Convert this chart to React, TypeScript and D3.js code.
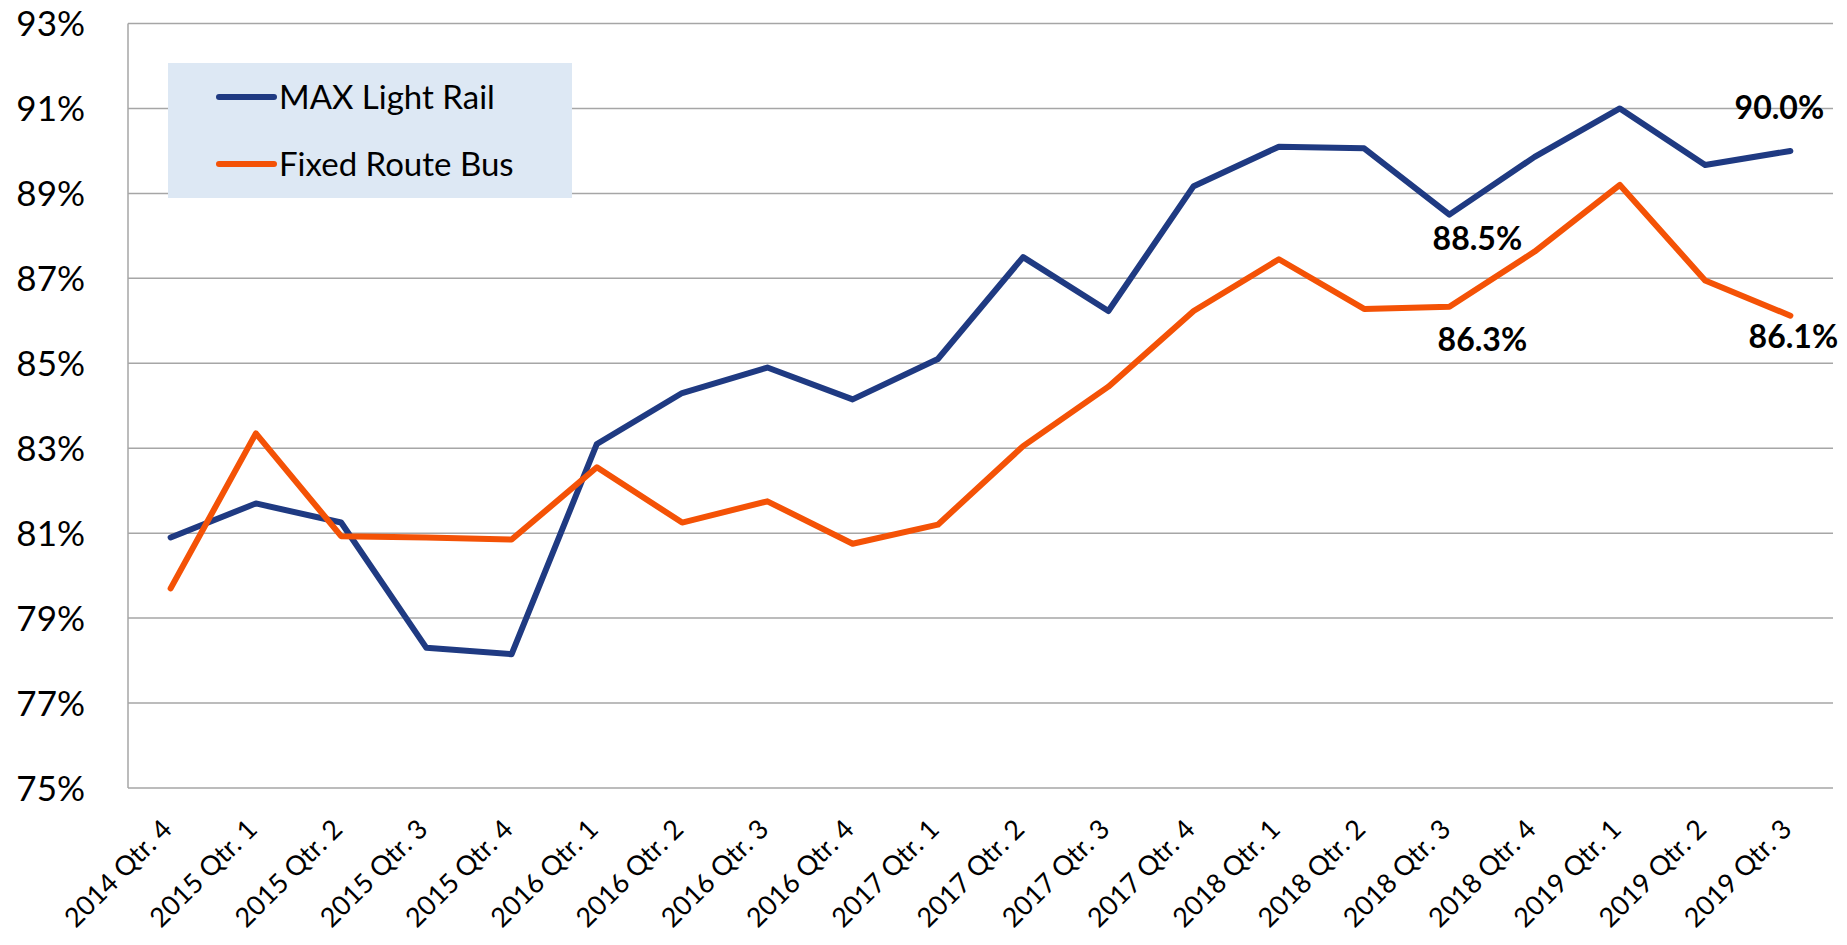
import React, { useEffect, useRef } from "react";
import * as d3 from "d3";

const quarters = [
  "2014 Qtr. 4", "2015 Qtr. 1", "2015 Qtr. 2", "2015 Qtr. 3", "2015 Qtr. 4",
  "2016 Qtr. 1", "2016 Qtr. 2", "2016 Qtr. 3", "2016 Qtr. 4", "2017 Qtr. 1",
  "2017 Qtr. 2", "2017 Qtr. 3", "2017 Qtr. 4", "2018 Qtr. 1", "2018 Qtr. 2",
  "2018 Qtr. 3", "2018 Qtr. 4", "2019 Qtr. 1", "2019 Qtr. 2", "2019 Qtr. 3",
];

const maxRail = [
  80.9, 81.7, 81.25, 78.3, 78.15, 83.1, 84.3, 84.9, 84.15, 85.1,
  87.5, 86.23, 89.17, 90.1, 90.06, 88.5, 89.86, 91.0, 89.67, 90.0,
];

const fixedBus = [
  79.7, 83.35, 80.93, 80.9, 80.85, 82.55, 81.25, 81.75, 80.75, 81.2,
  83.05, 84.45, 86.23, 87.45, 86.28, 86.33, 87.63, 89.2, 86.95, 86.12,
];

const yTicks = [75, 77, 79, 81, 83, 85, 87, 89, 91, 93];

// labelled points: series, index, text, offset from the point
const callouts = [
  { series: "rail", i: 19, text: "90.0%", dx: -11, dy: -32 },
  { series: "rail", i: 15, text: "88.5%", dx: 28, dy: 35 },
  { series: "bus", i: 15, text: "86.3%", dx: 33, dy: 44 },
  { series: "bus", i: 19, text: "86.1%", dx: 3, dy: 32 },
];

const seriesNames = ["MAX Light Rail", "Fixed Route Bus"];
const BLUE = "#1f3a82";
const ORANGE = "#f45206";

export default function App() {
  const ref = useRef<SVGSVGElement>(null);

  useEffect(() => {
    const width = 1847;
    const height = 945;
    const margin = { top: 23.5, right: 14, bottom: 157, left: 128 };

    const svg = d3.select(ref.current);
    svg.selectAll("*").remove();

    const x = d3.scaleBand<string>()
      .domain(quarters)
      .range([margin.left, width - margin.right]);
    const cx = (q: string) => (x(q) as number) + x.bandwidth() / 2;

    const y = d3.scaleLinear()
      .domain([75, 93])
      .range([height - margin.bottom, margin.top]);

    // grid
    svg.append("g")
      .selectAll("line")
      .data(yTicks)
      .join("line")
      .attr("x1", margin.left)
      .attr("x2", width - margin.right)
      .attr("y1", d => y(d))
      .attr("y2", d => y(d))
      .attr("stroke", "#a6a6a6")
      .attr("stroke-width", 1.5);

    svg.append("line")
      .attr("x1", margin.left).attr("x2", margin.left)
      .attr("y1", y(93)).attr("y2", y(75))
      .attr("stroke", "#a6a6a6")
      .attr("stroke-width", 1.5);

    // y labels
    svg.append("g")
      .selectAll("text")
      .data(yTicks)
      .join("text")
      .attr("x", 85)
      .attr("y", d => y(d))
      .attr("dy", "0.36em")
      .attr("text-anchor", "end")
      .attr("font-size", 35)
      .text(d => d + "%");

    // x labels
    svg.append("g")
      .selectAll("text")
      .data(quarters)
      .join("text")
      .attr("transform", d => `translate(${cx(d) + 3},${height - margin.bottom + 43}) rotate(-45)`)
      .attr("text-anchor", "end")
      .attr("font-size", 27)
      .text(d => d);

    // legend
    const lg = svg.append("g");
    lg.append("rect")
      .attr("x", 168).attr("y", 63)
      .attr("width", 404).attr("height", 135)
      .attr("fill", "#dde8f4");
    [BLUE, ORANGE].forEach((c, k) => {
      const ly = 97 + k * 67;
      lg.append("line")
        .attr("x1", 219).attr("x2", 274)
        .attr("y1", ly).attr("y2", ly)
        .attr("stroke", c)
        .attr("stroke-width", 6)
        .attr("stroke-linecap", "round");
      lg.append("text")
        .attr("x", 279).attr("y", ly)
        .attr("dy", "0.35em")
        .attr("font-size", 33)
        .text(seriesNames[k]);
    });

    // lines
    const line = d3.line<number>()
      .x((_, i) => cx(quarters[i]))
      .y(d => y(d));

    [[maxRail, BLUE], [fixedBus, ORANGE]].forEach(([data, c]) => {
      svg.append("path")
        .datum(data as number[])
        .attr("fill", "none")
        .attr("stroke", c as string)
        .attr("stroke-width", 6)
        .attr("stroke-linejoin", "round")
        .attr("stroke-linecap", "round")
        .attr("d", line);
    });

    // data labels
    svg.append("g")
      .selectAll("text")
      .data(callouts)
      .join("text")
      .attr("x", d => cx(quarters[d.i]) + d.dx)
      .attr("y", d => y(d.series === "rail" ? maxRail[d.i] : fixedBus[d.i]) + d.dy)
      .attr("text-anchor", "middle")
      .attr("font-size", 32)
      .attr("font-weight", "bold")
      .text(d => d.text);
  }, []);

  return (
    <svg
      ref={ref}
      width={1847}
      height={945}
      style={{ position: "absolute", left: 0, top: 0, fontFamily: "Lato, sans-serif", background: "#fff" }}
    />
  );
}
